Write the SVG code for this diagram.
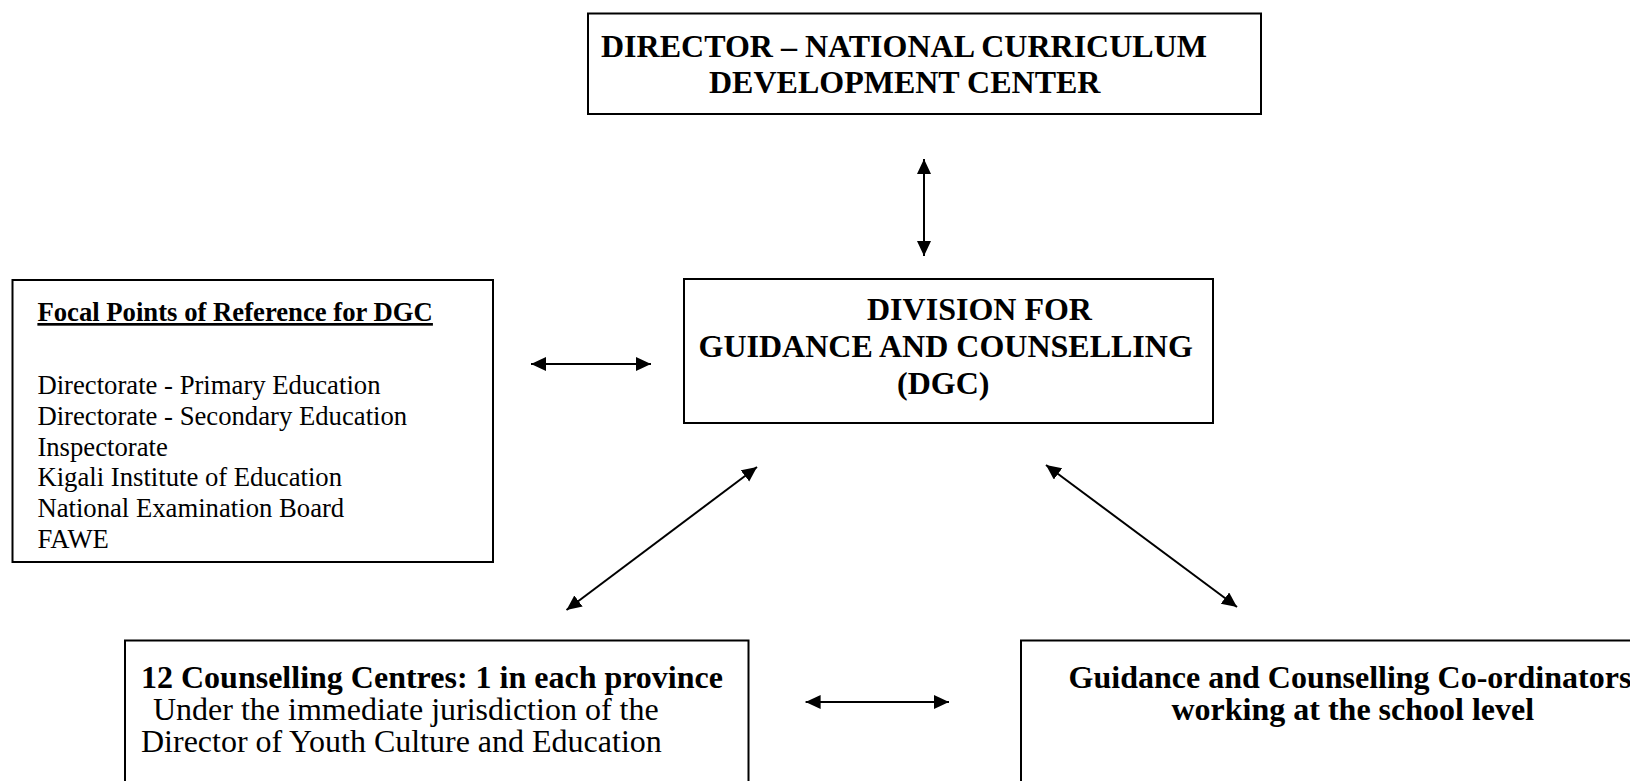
<svg xmlns="http://www.w3.org/2000/svg" width="1630" height="781" viewBox="0 0 1630 781">
<style>
.box{fill:#fff;stroke:#000;stroke-width:2}
.b{font-family:"Liberation Serif","Times New Roman",serif;font-weight:bold;font-size:32px;fill:#000}
.r{font-family:"Liberation Serif","Times New Roman",serif;font-size:32px;fill:#000}
.fb{font-family:"Liberation Serif","Times New Roman",serif;font-weight:bold;font-size:26.7px;fill:#000;text-decoration:underline}
.fr{font-family:"Liberation Serif","Times New Roman",serif;font-size:26.7px;fill:#000}
.c{stroke:#000;stroke-width:2;fill:none;marker-start:url(#ah);marker-end:url(#ah)}
</style>
<defs>
<marker id="ah" markerUnits="userSpaceOnUse" markerWidth="16" markerHeight="15" refX="15" refY="7" orient="auto-start-reverse">
<path d="M0,0 L15,7 L0,14 z" fill="#000"/>
</marker>
</defs>
<rect width="1630" height="781" fill="#fff"/>
<g id="director">
<rect class="box" x="588" y="13.5" width="673" height="100.5"/>
<text class="b" x="601" y="57">DIRECTOR – NATIONAL CURRICULUM</text>
<text class="b" x="709" y="92.5">DEVELOPMENT CENTER</text>
</g>
<g id="focal">
<rect class="box" x="12.5" y="280" width="480.5" height="282"/>
<text class="fb" x="37.4" y="321">Focal Points of Reference for DGC</text>
<text class="fr" x="37.4" y="394">Directorate - Primary Education</text>
<text class="fr" x="37.4" y="424.8">Directorate - Secondary Education</text>
<text class="fr" x="37.4" y="455.6">Inspectorate</text>
<text class="fr" x="37.4" y="486.4">Kigali Institute of Education</text>
<text class="fr" x="37.4" y="517.2">National Examination Board</text>
<text class="fr" x="37.4" y="548">FAWE</text>
</g>
<g id="dgc">
<rect class="box" x="684" y="279" width="529" height="144"/>
<text class="b" x="867" y="320">DIVISION FOR</text>
<text class="b" x="698.5" y="357">GUIDANCE AND COUNSELLING</text>
<text class="b" x="897" y="394">(DGC)</text>
</g>
<g id="centres">
<rect class="box" x="125" y="640.5" width="623.5" height="170"/>
<text class="b" x="141" y="688">12 Counselling Centres: 1 in each province</text>
<text class="r" x="153" y="720">Under the immediate jurisdiction of the</text>
<text class="r" x="141" y="751.5">Director of Youth Culture and Education</text>
</g>
<g id="coordinators">
<rect class="box" x="1021" y="640.5" width="640" height="170"/>
<text class="b" x="1068.6" y="688">Guidance and Counselling Co-ordinators</text>
<text class="b" x="1171.5" y="720">working at the school level</text>
</g>
<g id="connectors">
<line class="c" x1="924" y1="159" x2="924" y2="256"/>
<line class="c" x1="531" y1="364" x2="651" y2="364"/>
<line class="c" x1="566.5" y1="610" x2="757" y2="467"/>
<line class="c" x1="1046" y1="465" x2="1237" y2="607"/>
<line class="c" x1="805.6" y1="702" x2="949" y2="702"/>
</g>
</svg>
